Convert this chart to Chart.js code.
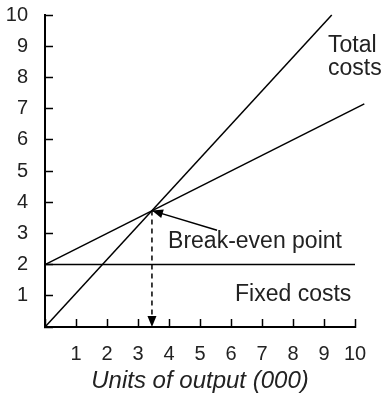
<!DOCTYPE html>
<html lang="en">
<head>
    <meta charset="UTF-8">
    <title>Break-even chart</title>
    <script src="https://cdn.jsdelivr.net/npm/chart.js"></script>
    <style>
        body {
            margin: 0;
            padding: 0;
            background: white;
        }
        .container {
            width: 384px;
            height: 403px;
        }
    </style>
</head>
<body>
    <div class="container">
        <canvas id="beChart"></canvas>
    </div>

    <script>
        // values
        const xTicks = [0, 1, 2, 3, 4, 5, 6, 7, 8, 9, 10];
        const yTicks = [0, 1, 2, 3, 4, 5, 6, 7, 8, 9, 10];

        const revenueX = [0, 9.25];
        const revenueY = [0, 10];
        const totalX = [0, 10.3];
        const totalY = [2, 7.15];
        const fixedX = [0, 10];
        const fixedY = [2, 2];

        const breakEven = [3.45, 3.73];
        const arrowStart = [5.55, 3.1];

        const textLabels = [
            { text: 'Total', x: 9.13, y: 8.82 },
            { text: 'costs', x: 9.13, y: 8.08 },
            { text: 'Break-even point', x: 3.97, y: 2.53 },
            { text: 'Fixed costs', x: 6.13, y: 0.84 }
        ];

        const FONT = '"Liberation Sans", Arial, sans-serif';
        Chart.defaults.font.family = FONT;
        Chart.defaults.color = '#222';

        function toPoints(xs, ys) {
            return xs.map((x, i) => ({ x: x, y: ys[i] }));
        }

        function drawHead(ctx, fx, fy, tx, ty) {
            const a = Math.atan2(ty - fy, tx - fx);
            const len = 11, w = 4.5;
            ctx.beginPath();
            ctx.moveTo(tx, ty);
            ctx.lineTo(tx - len * Math.cos(a) + w * Math.sin(a), ty - len * Math.sin(a) - w * Math.cos(a));
            ctx.lineTo(tx - len * Math.cos(a) - w * Math.sin(a), ty - len * Math.sin(a) + w * Math.cos(a));
            ctx.closePath();
            ctx.fill();
        }

        const annotations = {
            id: 'annotations',
            afterDatasetsDraw(chart) {
                const { ctx, scales: { x, y } } = chart;
                ctx.save();
                ctx.fillStyle = '#000';
                const bx = x.getPixelForValue(breakEven[0]);
                const by = y.getPixelForValue(breakEven[1]);
                drawHead(ctx, x.getPixelForValue(arrowStart[0]), y.getPixelForValue(arrowStart[1]), bx, by);
                drawHead(ctx, bx, by, bx, y.getPixelForValue(0));

                ctx.font = '23px ' + FONT;
                ctx.fillStyle = '#222';
                ctx.textAlign = 'left';
                ctx.textBaseline = 'alphabetic';
                textLabels.forEach(l => {
                    ctx.fillText(l.text, x.getPixelForValue(l.x), y.getPixelForValue(l.y));
                });
                ctx.restore();
            }
        };

        const lineStyle = {
            showLine: true,
            borderColor: '#000',
            borderWidth: 1.5,
            pointRadius: 0,
            fill: false,
            clip: false
        };

        // fixed axis sizes so the plot area sits where it does in the picture
        function fixSize(s, w, h) {
            if (w) s.width = w;
            if (h) s.height = h;
            s.paddingTop = 0;
            s.paddingBottom = 0;
            s.paddingLeft = 0;
            s.paddingRight = 0;
        }

        new Chart(document.getElementById('beChart'), {
            type: 'scatter',
            data: {
                datasets: [
                    { ...lineStyle, data: toPoints(revenueX, revenueY) },
                    { ...lineStyle, data: toPoints(totalX, totalY) },
                    { ...lineStyle, data: toPoints(fixedX, fixedY) },
                    { ...lineStyle, data: toPoints([breakEven[0], breakEven[0]], [breakEven[1], 0]), borderDash: [5, 4] },
                    { ...lineStyle, data: toPoints([arrowStart[0], breakEven[0]], [arrowStart[1], breakEven[1]]) }
                ]
            },
            options: {
                responsive: true,
                maintainAspectRatio: false,
                animation: false,
                layout: { padding: { top: 15, right: 29, left: 0, bottom: 0 } },
                plugins: {
                    legend: { display: false },
                    tooltip: { enabled: false }
                },
                scales: {
                    x: {
                        type: 'linear',
                        min: xTicks[0],
                        max: xTicks[xTicks.length - 1],
                        afterBuildTicks: s => { s.ticks = xTicks.map(v => ({ value: v })); },
                        afterFit: s => fixSize(s, 0, 76),
                        border: { display: true, color: '#000', width: 2 },
                        grid: { drawOnChartArea: false, tickLength: -8, color: '#000', tickWidth: 1.5 },
                        ticks: {
                            padding: 23,
                            font: { size: 20 },
                            color: '#222',
                            maxRotation: 0,
                            callback: v => v === 0 ? '' : v
                        },
                        title: {
                            display: true,
                            text: 'Units of output (000)',
                            font: { size: 24, style: 'italic' },
                            color: '#222',
                            padding: { top: 0, bottom: 7 }
                        }
                    },
                    y: {
                        type: 'linear',
                        min: yTicks[0],
                        max: yTicks[yTicks.length - 1],
                        afterBuildTicks: s => { s.ticks = yTicks.map(v => ({ value: v })); },
                        afterFit: s => fixSize(s, 45, 0),
                        border: { display: true, color: '#000', width: 2 },
                        grid: { drawOnChartArea: false, tickLength: -8, color: '#000', tickWidth: 1.5 },
                        ticks: {
                            padding: 25,
                            font: { size: 20 },
                            color: '#222',
                            callback: v => v === 0 ? '' : v
                        }
                    }
                }
            },
            plugins: [annotations]
        });
    </script>
</body>
</html>
